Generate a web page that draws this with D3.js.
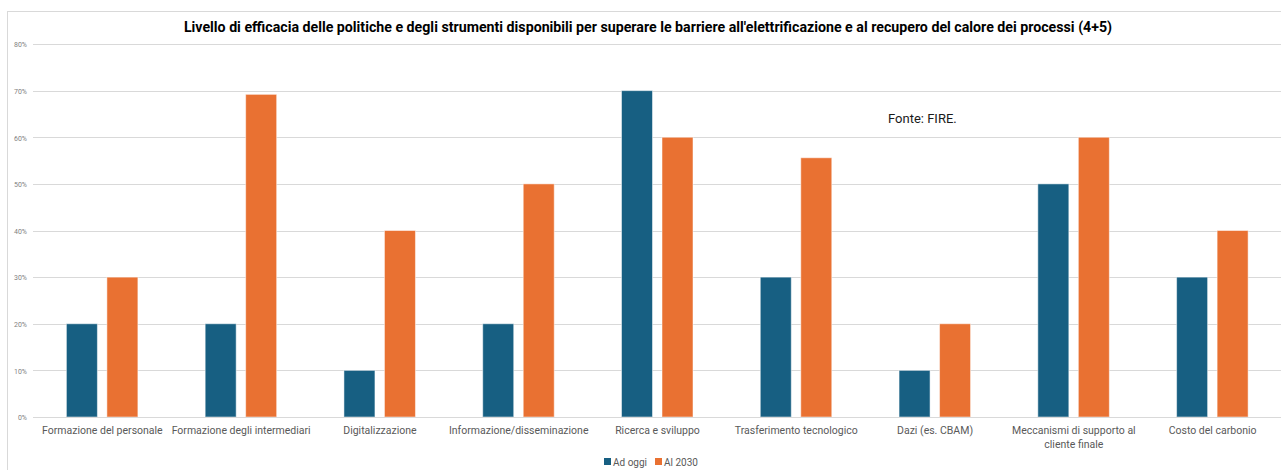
<!DOCTYPE html>
<html>
<head>
<meta charset="utf-8">
<script src="https://cdn.jsdelivr.net/npm/d3@7"></script>
<style>
  html, body { margin: 0; padding: 0; background: #fff; }
  svg { display: block; }
</style>
</head>
<body>
<svg id="chart" width="1281" height="470"></svg>
<script>
// Categories and series (percent values)
const categories = [
  "Formazione del personale",
  "Formazione degli intermediari",
  "Digitalizzazione",
  "Informazione/disseminazione",
  "Ricerca e sviluppo",
  "Trasferimento tecnologico",
  "Dazi (es. CBAM)",
  "Meccanismi di supporto al cliente finale",
  "Costo del carbonio"
];
const adOggi = [20, 20, 10, 20, 70, 30, 10, 50, 30];
const al2030 = [30, 69.2, 40, 50, 60, 55.6, 20, 60, 40];
const seriesNames = ["Ad oggi", "Al 2030"];
const seriesColors = ["#175f82", "#e97132"];
const yTicks = [0, 10, 20, 30, 40, 50, 60, 70, 80];

const titleText = "Livello di efficacia delle politiche e degli strumenti disponibili per superare le barriere all'elettrificazione e al recupero del calore dei processi (4+5)";
const sourceText = "Fonte: FIRE.";

const svg = d3.select("#chart");
const W = 1281, H = 470;
const margin = { left: 33, right: -1, top: 44, bottom: 53 };

const font = "Roboto, 'Noto Sans', sans-serif";

// Outer chart frame
svg.append("rect")
  .attr("x", 7.5).attr("y", 11.5)
  .attr("width", W + 10).attr("height", H + 10)
  .attr("fill", "none").attr("stroke", "#d9d9d9").attr("stroke-width", 1);

const x0 = d3.scaleBand()
  .domain(categories)
  .range([margin.left, W - margin.right])
  .paddingInner(0).paddingOuter(0);

const y = d3.scaleLinear()
  .domain([0, 80])
  .range([H - margin.bottom, margin.top]);

// Gridlines
svg.append("g")
  .selectAll("line")
  .data(yTicks)
  .join("line")
  .attr("x1", margin.left).attr("x2", W)
  .attr("y1", d => Math.round(y(d)) + 0.5).attr("y2", d => Math.round(y(d)) + 0.5)
  .attr("stroke", "#d9d9d9").attr("stroke-width", 1);

// Y axis tick labels
const yAxis = d3.axisLeft(y).tickValues(yTicks).tickFormat(d => d + "%").tickSize(0).tickPadding(6);
const gy = svg.append("g").attr("transform", `translate(${margin.left},0.5)`).call(yAxis);
gy.select(".domain").remove();
gy.selectAll("text")
  .attr("font-family", font).attr("font-size", 7).attr("fill", "#7f7f7f");

// Bars
const barW = 31;
const offsets = [-36, 4.5];
const data = categories.map((c, i) => ({ cat: c, vals: [adOggi[i], al2030[i]] }));

const groups = svg.append("g").selectAll("g")
  .data(data)
  .join("g")
  .attr("transform", d => `translate(${x0(d.cat) + x0.bandwidth() / 2},0)`);

groups.selectAll("rect")
  .data(d => d.vals.map((v, k) => ({ v, k })))
  .join("rect")
  .attr("x", d => offsets[d.k])
  .attr("width", barW)
  .attr("y", d => y(d.v))
  .attr("height", d => y(0) - y(d.v))
  .attr("fill", d => seriesColors[d.k])
  .attr("stroke", "#ffffff").attr("stroke-opacity", 0.5).attr("stroke-width", 1);

// Baseline
svg.append("line")
  .attr("x1", margin.left).attr("x2", W)
  .attr("y1", Math.round(y(0)) + 0.5).attr("y2", Math.round(y(0)) + 0.5)
  .attr("stroke", "#d9d9d9");

// Category labels (wrapped)
function wrapLabel(text, maxW) {
  text.each(function () {
    const t = d3.select(this);
    const words = t.text().split(/\s+/);
    const cx = t.attr("x");
    t.text(null);
    let line = [];
    let tspan = t.append("tspan").attr("x", cx).attr("dy", 0);
    for (const w of words) {
      line.push(w);
      tspan.text(line.join(" "));
      if (tspan.node().getComputedTextLength() > maxW && line.length > 1) {
        line.pop();
        tspan.text(line.join(" "));
        line = [w];
        tspan = t.append("tspan").attr("x", cx).attr("dy", "1.35em").text(w);
      }
    }
  });
}

svg.append("g").selectAll("text")
  .data(categories)
  .join("text")
  .attr("x", d => x0(d) + x0.bandwidth() / 2)
  .attr("y", y(0) + 17)
  .attr("text-anchor", "middle")
  .attr("font-family", font).attr("font-size", 10.5).attr("fill", "#595959")
  .text(d => d)
  .call(wrapLabel, 140);

// Title
svg.append("text")
  .attr("x", 648).attr("y", 32)
  .attr("text-anchor", "middle")
  .attr("font-family", font).attr("font-weight", "bold").attr("font-size", 14.2)
  .attr("fill", "#000")
  .text(titleText);

// Source note
svg.append("text")
  .attr("x", 888).attr("y", 123)
  .attr("font-family", font).attr("font-size", 13).attr("fill", "#1a1a1a")
  .text(sourceText);

// Legend
const legend = svg.append("g").attr("transform", "translate(604,458)");
const lx = [0, 51];
seriesNames.forEach((name, k) => {
  const g = legend.append("g").attr("transform", `translate(${lx[k]},0)`);
  g.append("rect").attr("width", 7).attr("height", 7).attr("fill", seriesColors[k]);
  g.append("text").attr("x", 9).attr("y", 7.5)
    .attr("font-family", font).attr("font-size", 10).attr("fill", "#595959")
    .text(name);
});
</script>
</body>
</html>
